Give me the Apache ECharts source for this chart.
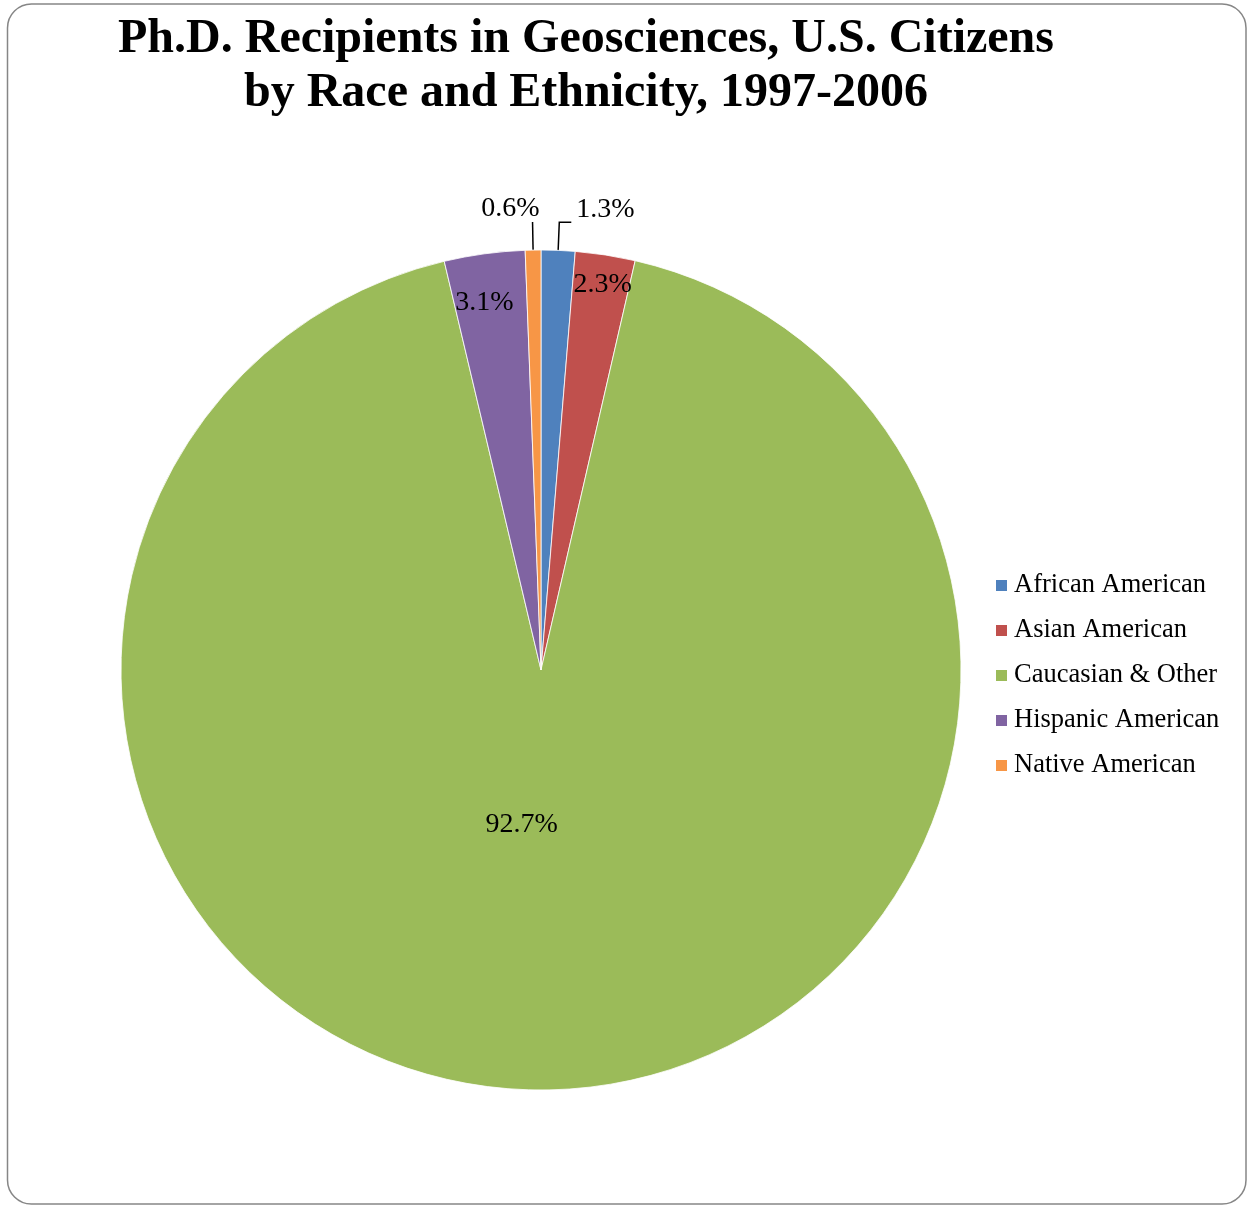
<!DOCTYPE html>
<html>
<head>
<meta charset="utf-8">
<title>Ph.D. Recipients in Geosciences</title>
<script src="https://cdn.jsdelivr.net/npm/echarts@6/dist/echarts.min.js"></script>
<style>
  html, body { margin: 0; padding: 0; background: #fff; }
  #chart { width: 1247px; height: 1205px; }
</style>
</head>
<body>
<div id="chart"></div>
<script>
// Share of U.S.-citizen geoscience Ph.D. recipients, 1997-2006 (percent)
var categories = ['African American', 'Asian American', 'Caucasian & Other', 'Hispanic American', 'Native American'];
var shares = [1.3, 2.3, 92.7, 3.1, 0.6];
var colors = ['#4F81BD', '#C0504D', '#9BBB59', '#8064A2', '#F79646'];

// Slices too thin to hold their label get an outside label with a leader line
var outsideLabel = [true, false, false, false, true];
// Fine placement of each label relative to the default ECharts position
var labelNudge = [[0, -13], [29, -175], [-20, -58], [-28, -156], [12, -13]];

var FONT = '"Liberation Serif", "Times New Roman", serif';

var pieData = categories.map(function (name, i) {
  var item = { name: name, value: shares[i], itemStyle: { color: colors[i] } };
  if (outsideLabel[i]) {
    item.label = { position: 'outside' };
    item.labelLine = { show: true, length: 28, length2: i === 0 ? 12 : 0 };
  }
  return item;
});

var chart = echarts.init(document.getElementById('chart'), null, { renderer: 'canvas' });
chart.setOption({
  backgroundColor: '#fff',
  animation: false,
  title: {
    text: 'Ph.D. Recipients in Geosciences, U.S. Citizens\nby Race and Ethnicity, 1997-2006',
    left: 586,
    top: 13,
    padding: 0,
    textAlign: 'center',
    textStyle: {
      fontFamily: FONT,
      fontSize: 48,
      fontWeight: 'bold',
      lineHeight: 54,
      color: '#000'
    }
  },
  legend: {
    orient: 'vertical',
    left: 996,
    top: 572,
    padding: 0,
    itemWidth: 11,
    itemHeight: 11,
    itemGap: 18,
    icon: 'rect',
    data: categories,
    itemStyle: { borderWidth: 0 },
    textStyle: {
      fontFamily: FONT,
      fontSize: 26.5,
      lineHeight: 27,
      color: '#000',
      padding: [0, 0, 0, 2]
    }
  },
  graphic: [{
    type: 'rect',
    shape: { x: 7.5, y: 4, width: 1238.5, height: 1200, r: 24 },
    style: { fill: null, stroke: '#868686', lineWidth: 1.5 },
    silent: true
  }],
  series: [{
    type: 'pie',
    center: [541, 670],
    radius: 420,
    startAngle: 90,
    clockwise: true,
    avoidLabelOverlap: false,
    itemStyle: { borderColor: '#fff', borderWidth: 0.8 },
    label: {
      show: true,
      position: 'inside',
      formatter: function (p) { return p.value.toFixed(1) + '%'; },
      fontFamily: FONT,
      fontSize: 28,
      color: '#000'
    },
    labelLine: { show: false, lineStyle: { color: '#000', width: 1.5 } },
    labelLayout: function (params) {
      var n = labelNudge[params.dataIndex];
      return { dx: n[0], dy: n[1] };
    },
    emphasis: { disabled: true },
    data: pieData
  }]
});
</script>
</body>
</html>
